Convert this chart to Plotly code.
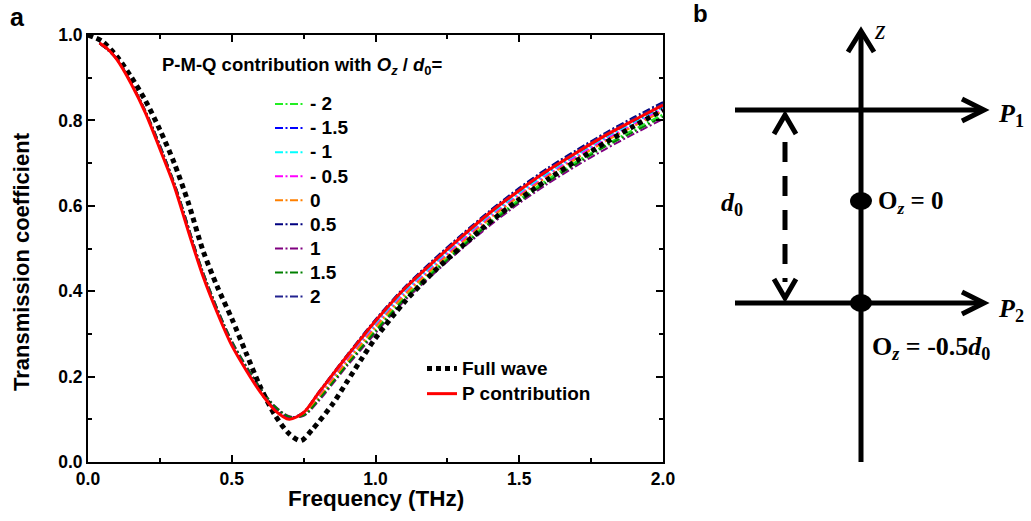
import plotly.graph_objects as go

# ---------------- data ----------------
freq_full = [0.00, 0.05, 0.10, 0.15, 0.20, 0.25, 0.30, 0.35, 0.40, 0.45, 0.50, 0.55, 0.60,
             0.65, 0.70, 0.74, 0.78, 0.85, 0.90, 0.95, 1.00, 1.10, 1.20, 1.30, 1.40, 1.50,
             1.60, 1.70, 1.80, 1.90, 2.00]
full_wave = [1.000, 0.985, 0.950, 0.902, 0.846, 0.778, 0.700, 0.605, 0.495, 0.410, 0.336, 0.255, 0.175,
             0.110, 0.066, 0.050, 0.076, 0.135, 0.187, 0.240, 0.290, 0.374, 0.444, 0.505, 0.563, 0.615,
             0.662, 0.706, 0.748, 0.787, 0.824]

freq_p = [0.04, 0.07, 0.10, 0.15, 0.20, 0.25, 0.30, 0.35, 0.40, 0.45, 0.50, 0.55, 0.60, 0.65, 0.70,
          0.75, 0.80, 0.85, 0.90, 0.95, 1.00, 1.10, 1.20, 1.30, 1.40, 1.50, 1.60, 1.70, 1.80,
          1.90, 2.00]
p_contrib = [0.981, 0.966, 0.943, 0.886, 0.817, 0.733, 0.646, 0.538, 0.435, 0.349, 0.273, 0.215, 0.163, 0.121,
             0.100, 0.116, 0.160, 0.204, 0.247, 0.289, 0.330, 0.405, 0.468, 0.528, 0.585, 0.636, 0.683, 0.725,
             0.765, 0.801, 0.836]

freq_pmq = [0.04, 0.10, 0.20, 0.30, 0.40, 0.50, 0.60, 0.65, 0.70, 0.75, 0.80, 0.90, 1.00, 1.10,
            1.20, 1.30, 1.40, 1.50, 1.60, 1.70, 1.80, 1.90, 2.00]
pmq_labels = ["- 2", "- 1.5", "- 1", "- 0.5", "0", "0.5", "1", "1.5", "2"]
pmq_m2 = [0.981, 0.944, 0.821, 0.653, 0.444, 0.282, 0.171, 0.129, 0.106, 0.110, 0.146, 0.230, 0.310, 0.385,
          0.448, 0.507, 0.564, 0.615, 0.662, 0.704, 0.743, 0.779, 0.814]
pmq_m15 = [0.981, 0.944, 0.820, 0.651, 0.441, 0.279, 0.168, 0.126, 0.104, 0.114, 0.156, 0.243, 0.325, 0.400,
           0.463, 0.523, 0.581, 0.632, 0.679, 0.721, 0.761, 0.797, 0.832]
pmq_m1 = [0.981, 0.944, 0.820, 0.651, 0.442, 0.280, 0.169, 0.127, 0.104, 0.113, 0.154, 0.240, 0.322, 0.397,
          0.460, 0.520, 0.578, 0.629, 0.676, 0.718, 0.758, 0.794, 0.829]
pmq_m05 = [0.981, 0.944, 0.820, 0.652, 0.442, 0.281, 0.170, 0.127, 0.105, 0.112, 0.151, 0.237, 0.318, 0.393,
           0.456, 0.517, 0.574, 0.625, 0.672, 0.715, 0.755, 0.791, 0.826]
pmq_0 = [0.981, 0.944, 0.821, 0.652, 0.443, 0.281, 0.170, 0.128, 0.105, 0.111, 0.149, 0.234, 0.315, 0.390,
         0.453, 0.513, 0.571, 0.622, 0.669, 0.711, 0.751, 0.787, 0.822]
pmq_p05 = [0.981, 0.944, 0.820, 0.651, 0.441, 0.279, 0.168, 0.125, 0.103, 0.117, 0.162, 0.250, 0.334, 0.409,
           0.473, 0.533, 0.590, 0.642, 0.689, 0.731, 0.771, 0.808, 0.843]
pmq_p1 = [0.981, 0.945, 0.822, 0.654, 0.445, 0.284, 0.173, 0.131, 0.107, 0.108, 0.141, 0.224, 0.302, 0.377,
          0.439, 0.499, 0.555, 0.606, 0.652, 0.694, 0.733, 0.769, 0.803]
pmq_p15 = [0.981, 0.944, 0.821, 0.653, 0.444, 0.283, 0.172, 0.130, 0.106, 0.109, 0.144, 0.227, 0.306, 0.381,
           0.443, 0.503, 0.560, 0.610, 0.657, 0.699, 0.739, 0.774, 0.809]
pmq_p2 = [0.981, 0.944, 0.819, 0.650, 0.440, 0.278, 0.167, 0.124, 0.102, 0.116, 0.161, 0.249, 0.332, 0.407,
          0.470, 0.531, 0.588, 0.639, 0.686, 0.728, 0.769, 0.805, 0.840]
pmq_series = [pmq_m2, pmq_m15, pmq_m1, pmq_m05, pmq_0, pmq_p05, pmq_p1, pmq_p15, pmq_p2]
pmq_colors = ["#22ee22", "#0000ff", "#00ffff", "#ff00ff", "#ff8000", "#000080", "#800080", "#008000", "#22228f"]

x_ticks = [0.0, 0.5, 1.0, 1.5, 2.0]
y_ticks = [0.0, 0.2, 0.4, 0.6, 0.8, 1.0]

# ---------------- figure ----------------
W, H = 1031, 521
def px(x):
    return x / W
def py(y):
    return 1 - y / H

BOLD = dict(family="Liberation Sans, Arial", weight="bold", color="black")
def big(s):
    return f"<span style='font-size:19px'>{s}</span>"

fig = go.Figure()
for lab, ys, col in zip(pmq_labels, pmq_series, pmq_colors):
    fig.add_trace(go.Scatter(x=freq_pmq, y=ys, mode="lines", name=big(lab),
                             line=dict(color=col, width=2, dash="8px,2.5px,2px,2.5px",
                                       shape="spline", smoothing=0.8),
                             legend="legend"))
fig.add_trace(go.Scatter(x=freq_full, y=full_wave, mode="lines", name=big("Full wave"),
                         line=dict(color="black", width=5, dash="5px,4px", shape="spline", smoothing=0.8),
                         legend="legend2"))
fig.add_trace(go.Scatter(x=freq_p, y=p_contrib, mode="lines", name=big("P contribution"),
                         line=dict(color="#ff0000", width=3, shape="spline", smoothing=0.8),
                         legend="legend2"))

axis_common = dict(showline=True, linecolor="black", linewidth=2, mirror="allticks",
                   ticks="inside", ticklen=7, tickwidth=2, tickcolor="black",
                   showgrid=False, zeroline=False, automargin=False,
                   tickfont=dict(size=17.5, **BOLD))
fig.update_xaxes(range=[0, 2], tickvals=x_ticks, ticktext=[f"{v:.1f}" for v in x_ticks],
                 domain=[px(88), px(663)], ticklabelstandoff=0,
                 minor=dict(ticks="inside", ticklen=4, tickwidth=2, tickcolor="black", dtick=0.25, showgrid=False),
                 **axis_common)
fig.update_yaxes(range=[0, 1], tickvals=y_ticks, ticktext=[f"{v:.1f}" for v in y_ticks],
                 domain=[py(462), py(35)], ticklabelstandoff=0,
                 minor=dict(ticks="inside", ticklen=4, tickwidth=2, tickcolor="black", dtick=0.1, showgrid=False),
                 **axis_common)

fig.update_layout(
    width=W, height=H, margin=dict(l=0, r=0, t=0, b=0, autoexpand=False),
    paper_bgcolor="white", plot_bgcolor="white",
    legend=dict(x=px(270), y=py(87), xanchor="left", yanchor="top",
                font=dict(size=16.2, **BOLD), bgcolor="rgba(0,0,0,0)", tracegroupgap=0),
    legend2=dict(x=px(422), y=py(351), xanchor="left", yanchor="top",
                 font=dict(size=17, **BOLD), bgcolor="rgba(0,0,0,0)"),
)

ann = []
ann.append(dict(text="P-M-Q contribution with <i>O<sub>z</sub></i> / <i>d</i><sub>0</sub>=",
                x=px(160), y=py(66), xanchor="left", yanchor="middle",
                font=dict(size=18.5, **BOLD)))
ann.append(dict(text="Frequency (THz)", x=px(376), y=py(498), xanchor="center", yanchor="middle",
                font=dict(size=22.5, **BOLD)))
ann.append(dict(text="Transmission coefficient", x=px(21), y=py(262), xanchor="center", yanchor="middle",
                textangle=-90, font=dict(size=22, **BOLD)))
ann.append(dict(text="a", x=px(17), y=py(17), xanchor="center", yanchor="middle",
                font=dict(size=25, **BOLD)))
ann.append(dict(text="b", x=px(700), y=py(14), xanchor="center", yanchor="middle",
                font=dict(size=24, **BOLD)))

SERIF = dict(family="Liberation Serif, Times New Roman", color="black")
ann.append(dict(text="<i>z</i>", x=px(880), y=py(30), xanchor="center", yanchor="middle",
                font=dict(size=27, **SERIF)))
ann.append(dict(text="<b><i>P</i><sub>1</sub></b>", x=px(1011), y=py(115), xanchor="center", yanchor="middle",
                font=dict(size=26, **SERIF)))
ann.append(dict(text="<b><i>P</i><sub>2</sub></b>", x=px(1011), y=py(310), xanchor="center", yanchor="middle",
                font=dict(size=26, **SERIF)))
ann.append(dict(text="<b><i>d</i><sub>0</sub></b>", x=px(732), y=py(204), xanchor="center", yanchor="middle",
                font=dict(size=26, **SERIF)))
ann.append(dict(text="<b>O<sub><i>z</i></sub> = 0</b>", x=px(876), y=py(202), xanchor="left", yanchor="middle",
                font=dict(size=25, **SERIF)))
ann.append(dict(text="<b>O<sub><i>z</i></sub> = -0.5<i>d</i><sub>0</sub></b>", x=px(870), y=py(348),
                xanchor="left", yanchor="middle", font=dict(size=26, **SERIF)))
for a in ann:
    a.update(xref="paper", yref="paper", showarrow=False)
fig.update_layout(annotations=ann)

shapes = []
LW = 5
def seg(x0, y0, x1, y1, dash="solid"):
    shapes.append(dict(type="line", xref="paper", yref="paper",
                       x0=px(x0), y0=py(y0), x1=px(x1), y1=py(y1),
                       line=dict(color="black", width=LW, dash=dash)))
def chevron(pts):
    d = "M" + " L".join(f"{px(a)},{py(b)}" for a, b in pts)
    shapes.append(dict(type="path", xref="paper", yref="paper", path=d,
                       line=dict(color="black", width=LW)))
def dot(cx, cy, rx, ry):
    shapes.append(dict(type="circle", xref="paper", yref="paper",
                       x0=px(cx - rx), x1=px(cx + rx), y0=py(cy - ry), y1=py(cy + ry),
                       fillcolor="black", line=dict(color="black", width=0)))

# z axis
seg(861, 462, 861, 33)
chevron([(848, 52), (861, 31), (874, 52)])
# P1, P2
seg(735, 110, 982, 110)
chevron([(962, 99), (984, 110), (962, 121)])
seg(735, 303, 982, 303)
chevron([(962, 292), (984, 303), (962, 314)])
# d0 dashed double arrow
seg(785, 142, 785, 282, dash="20px,14px")
chevron([(774, 134), (785, 115), (796, 134)])
chevron([(774, 279), (785, 298), (796, 279)])
# dots
dot(861, 201, 11, 9)
dot(861, 303, 11, 9)
fig.update_layout(shapes=shapes)

fig.write_html("out.html", config={"displayModeBar": False},
               post_script="document.body.style.margin='0';document.body.style.overflow='hidden';")
